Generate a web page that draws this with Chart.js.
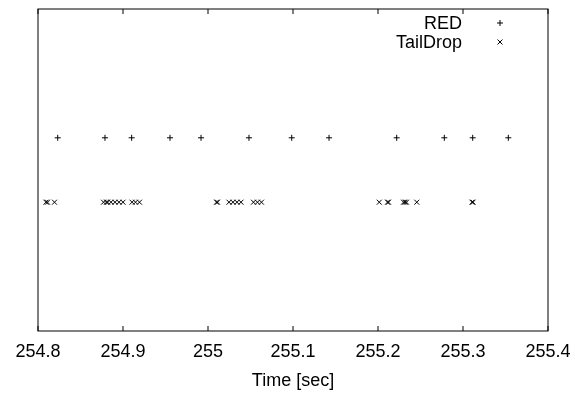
<!DOCTYPE html>
<html>
<head>
<meta charset="utf-8">
<script src="https://cdn.jsdelivr.net/npm/chart.js@4/dist/chart.umd.min.js"></script>
<style>
  html, body { margin: 0; padding: 0; background: #fff; }
  #wrap { width: 575px; height: 399px; position: relative; }
</style>
</head>
<body>
<div id="wrap"><canvas id="c" width="575" height="399"></canvas></div>
<script>
// ---- data ----
const seriesNames = ["RED", "TailDrop"];
const redTimes = [254.8232, 254.8788, 254.9102, 254.9553, 254.9918, 255.0482,
  255.0985, 255.1424, 255.2220, 255.2780, 255.3114, 255.3533];
const redLevel = 3;
const tailDropTimes = [254.8094, 254.8112, 254.8194,
  254.8771, 254.8806, 254.8818, 254.8859, 254.8906, 254.8953, 254.9000,
  254.9106, 254.9147, 254.9194,
  255.0100, 255.0112, 255.0247, 255.0294, 255.0341, 255.0388,
  255.0535, 255.0582, 255.0629,
  255.2015, 255.2112, 255.2124, 255.2300, 255.2318, 255.2335, 255.2456,
  255.3106, 255.3118];
const tailDropLevel = 2;
const xTickValues = [254.8, 254.9, 255.0, 255.1, 255.2, 255.3, 255.4];
const xTitle = "Time [sec]";

const FONT = "'Liberation Sans', Arial, Helvetica, sans-serif";
const FSIZE = 18;

const framePlugin = {
  id: 'frame',
  afterDraw(chart) {
    const {ctx, chartArea: a, scales} = chart;
    ctx.save();
    ctx.strokeStyle = '#000';
    ctx.lineWidth = 1;
    ctx.strokeRect(a.left, a.top, a.right - a.left, a.bottom - a.top);
    // inward ticks (bottom and mirrored top)
    const tl = 5;
    ctx.beginPath();
    xTickValues.forEach(v => {
      const px = Math.round(scales.x.getPixelForValue(v));
      ctx.moveTo(px, a.bottom); ctx.lineTo(px, a.bottom - tl);
      ctx.moveTo(px, a.top); ctx.lineTo(px, a.top + tl);
    });
    ctx.stroke();
    // legend: text right-aligned, marker on the right
    ctx.font = FSIZE + 'px ' + FONT;
    ctx.fillStyle = '#000';
    ctx.textAlign = 'right';
    ctx.textBaseline = 'middle';
    const rows = [23, 42];
    chart.data.datasets.forEach((ds, i) => {
      const y = rows[i];
      ctx.fillText(ds.label, 462, y + 1);
      const opts = {pointStyle: ds.pointStyle, radius: ds.pointRadius, rotation: 0, borderWidth: 1};
      ctx.strokeStyle = '#000';
      ctx.lineWidth = 1;
      Chart.helpers.drawPoint(ctx, opts, 500, y);
    });
    ctx.restore();
  }
};

new Chart(document.getElementById('c'), {
  type: 'scatter',
  data: {
    datasets: [
      {
        label: seriesNames[0],
        data: redTimes.map(t => ({x: t, y: redLevel})),
        pointStyle: 'cross',
        pointRadius: 3,
        borderColor: '#000',
        backgroundColor: '#000',
        borderWidth: 1
      },
      {
        label: seriesNames[1],
        data: tailDropTimes.map(t => ({x: t, y: tailDropLevel})),
        pointStyle: 'crossRot',
        pointRadius: 3.5,
        borderColor: '#000',
        backgroundColor: '#000',
        borderWidth: 1
      }
    ]
  },
  options: {
    responsive: false,
    animation: false,
    events: [],
    layout: { padding: { left: 38, right: 27, top: 9, bottom: 0 } },
    plugins: { legend: { display: false }, tooltip: { enabled: false } },
    scales: {
      x: {
        type: 'linear',
        min: 254.8,
        max: 255.4,
        afterFit(scale) {
          scale.height = 68;
          scale.paddingLeft = 0;
          scale.paddingRight = 0;
        },
        afterBuildTicks(scale) { scale.ticks = xTickValues.map(v => ({value: v})); },
        grid: { display: false, drawTicks: false },
        border: { display: false },
        ticks: {
          padding: 10,
          color: '#000',
          font: { family: FONT, size: FSIZE },
          maxRotation: 0,
          autoSkip: false,
          callback: v => String(+Number(v).toFixed(1))
        },
        title: {
          display: true,
          text: xTitle,
          color: '#000',
          font: { family: FONT, size: FSIZE },
          padding: { top: 0, bottom: 7 }
        }
      },
      y: {
        display: false,
        min: 0,
        max: 5
      }
    }
  },
  plugins: [framePlugin]
});
</script>
</body>
</html>
